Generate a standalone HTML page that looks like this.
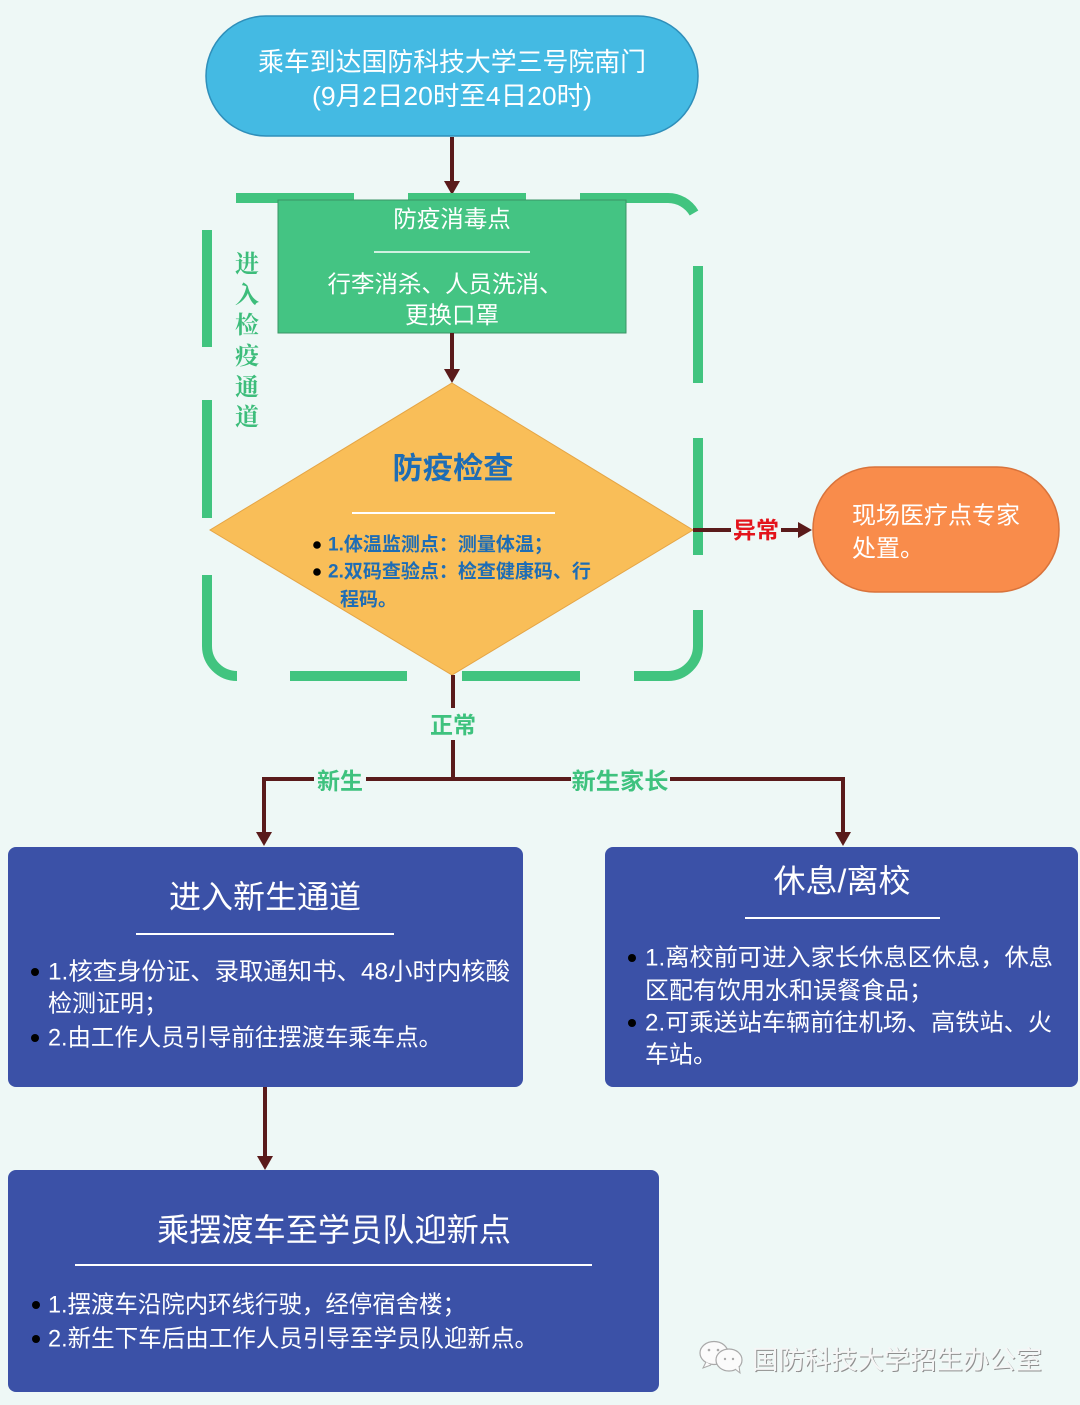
<!DOCTYPE html>
<html><head><meta charset="utf-8">
<style>
html,body{margin:0;padding:0;background:#eef8f6;width:1080px;height:1405px;overflow:hidden;}
svg{display:block}
text{font-family:"Liberation Sans","Noto Sans CJK SC",sans-serif;}
.serif{font-family:"Liberation Serif","Noto Serif CJK SC",serif;}
</style></head><body>
<svg width="1080" height="1405" viewBox="0 0 1080 1405" xmlns="http://www.w3.org/2000/svg">
<rect width="1080" height="1405" fill="#eef8f6"/>

<!-- top pill -->
<rect x="206" y="16" width="492" height="120" rx="60" fill="#44bae3" stroke="#2f8fba" stroke-width="1.5"/>
<text x="452" y="62" text-anchor="middle" dominant-baseline="central" font-size="26" fill="#fff" textLength="388" lengthAdjust="spacingAndGlyphs">乘车到达国防科技大学三号院南门</text>
<text x="452" y="96" text-anchor="middle" dominant-baseline="central" font-size="26" fill="#fff" textLength="280" lengthAdjust="spacingAndGlyphs">(9月2日20时至4日20时)</text>

<!-- arrow 1 -->
<line x1="452" y1="137" x2="452" y2="184" stroke="#5a1b1b" stroke-width="4"/>
<polygon points="444,181 460,181 452,195" fill="#5a1b1b"/>

<!-- dashed rounded border -->
<g fill="none" stroke="#41c47f" stroke-width="10" stroke-linecap="butt">
  <path d="M236,198 H354"/>
  <path d="M408,198 H526"/>
  <path d="M580,198 H668 A30,30 0 0 1 694,213"/>
  <path d="M698,266 V383"/>
  <path d="M698,438 V555"/>
  <path d="M698,610 V646 A30,30 0 0 1 668,676 H634"/>
  <path d="M580,676 H462"/>
  <path d="M407,676 H290"/>
  <path d="M237,676 A30,30 0 0 1 207,646 V575"/>
  <path d="M207,518 V400"/>
  <path d="M207,347 V230"/>
</g>

<!-- green rect -->
<rect x="278" y="200" width="348" height="133" fill="#44c483" stroke="#3a9566" stroke-width="1"/>
<text x="452" y="219" text-anchor="middle" dominant-baseline="central" font-size="23.5" fill="#fff">防疫消毒点</text>
<line x1="374" y1="252" x2="530" y2="252" stroke="#fff" stroke-width="1.5"/>
<text x="445" y="284" text-anchor="middle" dominant-baseline="central" font-size="23.5" fill="#fff">行李消杀、人员洗消、</text>
<text x="452" y="315" text-anchor="middle" dominant-baseline="central" font-size="23.5" fill="#fff">更换口罩</text>

<!-- vertical label -->
<g class="serif" font-size="24" font-weight="bold" fill="#3dbd7b" text-anchor="middle" dominant-baseline="central">
  <text x="247" y="265" class="serif">进</text>
  <text x="247" y="296" class="serif">入</text>
  <text x="247" y="326" class="serif">检</text>
  <text x="247" y="357" class="serif">疫</text>
  <text x="247" y="388" class="serif">通</text>
  <text x="247" y="418" class="serif">道</text>
</g>

<!-- arrow 2 -->
<line x1="452" y1="333" x2="452" y2="372" stroke="#5a1b1b" stroke-width="4"/>
<polygon points="444,369 460,369 452,383" fill="#5a1b1b"/>

<!-- diamond -->
<polygon points="452,383 693,530 452,675 210,530" fill="#f9be58" stroke="#e5a545" stroke-width="1"/>
<text x="453" y="469" text-anchor="middle" dominant-baseline="central" font-size="30" font-weight="bold" fill="#1e6db5" textLength="121" lengthAdjust="spacingAndGlyphs">防疫检查</text>
<line x1="352" y1="513" x2="555" y2="513" stroke="#fff" stroke-width="2"/>
<circle cx="317" cy="545" r="3.8" fill="#000"/>
<circle cx="317" cy="572" r="3.8" fill="#000"/>
<text x="328" y="545" dominant-baseline="central" font-size="19" font-weight="bold" fill="#1e6db5">1.体温监测点：测量体温；</text>
<text x="328" y="572" dominant-baseline="central" font-size="19" font-weight="bold" fill="#1e6db5">2.双码查验点：检查健康码、行</text>
<text x="340" y="600" dominant-baseline="central" font-size="19" font-weight="bold" fill="#1e6db5">程码。</text>

<!-- abnormal arrow -->
<line x1="693" y1="530" x2="731" y2="530" stroke="#5a1b1b" stroke-width="4"/>
<text x="756" y="530" text-anchor="middle" dominant-baseline="central" font-size="23" font-weight="bold" fill="#e3131b">异常</text>
<line x1="781" y1="530" x2="800" y2="530" stroke="#5a1b1b" stroke-width="4"/>
<polygon points="798,522 798,538 812,530" fill="#5a1b1b"/>

<!-- orange pill -->
<rect x="813" y="467" width="246" height="125" rx="62" fill="#f98c4b" stroke="#d9733b" stroke-width="1.5"/>
<text x="852" y="516" dominant-baseline="central" font-size="24" fill="#fff">现场医疗点专家</text>
<text x="852" y="549" dominant-baseline="central" font-size="24" fill="#fff">处置。</text>

<!-- normal connectors -->
<line x1="453" y1="675" x2="453" y2="708" stroke="#5a1b1b" stroke-width="4"/>
<text x="453" y="725" text-anchor="middle" dominant-baseline="central" font-size="23" font-weight="bold" fill="#3ec27e">正常</text>
<line x1="453" y1="740" x2="453" y2="779" stroke="#5a1b1b" stroke-width="4"/>
<path d="M264,835 V779 H843 V835" fill="none" stroke="#5a1b1b" stroke-width="4"/>
<polygon points="256,832 272,832 264,846" fill="#5a1b1b"/>
<polygon points="835,832 851,832 843,846" fill="#5a1b1b"/>
<rect x="314" y="768" width="52" height="26" fill="#eef8f6"/>
<rect x="571" y="768" width="99" height="26" fill="#eef8f6"/>
<text x="340" y="781" text-anchor="middle" dominant-baseline="central" font-size="23" font-weight="bold" fill="#3ec27e">新生</text>
<text x="620" y="781" text-anchor="middle" dominant-baseline="central" font-size="23" font-weight="bold" fill="#3ec27e" textLength="97" lengthAdjust="spacingAndGlyphs">新生家长</text>

<!-- left blue box -->
<rect x="8" y="847" width="515" height="240" rx="8" fill="#3b51a7"/>
<text x="265" y="897" text-anchor="middle" dominant-baseline="central" font-size="32" fill="#fff">进入新生通道</text>
<line x1="136" y1="934" x2="394" y2="934" stroke="#fff" stroke-width="2"/>
<circle cx="35" cy="972" r="4" fill="#000"/>
<circle cx="35" cy="1038" r="4" fill="#000"/>
<text x="48" y="972" dominant-baseline="central" font-size="24" fill="#fff" textLength="462" lengthAdjust="spacingAndGlyphs">1.核查身份证、录取通知书、48小时内核酸</text>
<text x="48" y="1004" dominant-baseline="central" font-size="24" fill="#fff">检测证明；</text>
<text x="48" y="1038" dominant-baseline="central" font-size="24" fill="#fff" textLength="394" lengthAdjust="spacingAndGlyphs">2.由工作人员引导前往摆渡车乘车点。</text>

<!-- right blue box -->
<rect x="605" y="847" width="473" height="240" rx="8" fill="#3b51a7"/>
<text x="842" y="881" text-anchor="middle" dominant-baseline="central" font-size="32" fill="#fff">休息/离校</text>
<line x1="745" y1="918" x2="940" y2="918" stroke="#fff" stroke-width="2"/>
<circle cx="632" cy="958" r="4" fill="#000"/>
<circle cx="632" cy="1023" r="4" fill="#000"/>
<text x="645" y="958" dominant-baseline="central" font-size="24" fill="#fff" textLength="408" lengthAdjust="spacingAndGlyphs">1.离校前可进入家长休息区休息，休息</text>
<text x="645" y="991" dominant-baseline="central" font-size="24" fill="#fff">区配有饮用水和误餐食品；</text>
<text x="645" y="1023" dominant-baseline="central" font-size="24" fill="#fff" textLength="407" lengthAdjust="spacingAndGlyphs">2.可乘送站车辆前往机场、高铁站、火</text>
<text x="645" y="1055" dominant-baseline="central" font-size="24" fill="#fff">车站。</text>

<!-- arrow left box -> bottom box -->
<line x1="265" y1="1087" x2="265" y2="1158" stroke="#5a1b1b" stroke-width="4"/>
<polygon points="257,1156 273,1156 265,1170" fill="#5a1b1b"/>

<!-- bottom blue box -->
<rect x="8" y="1170" width="651" height="222" rx="8" fill="#3b51a7"/>
<text x="334" y="1230" text-anchor="middle" dominant-baseline="central" font-size="32" fill="#fff" textLength="354" lengthAdjust="spacingAndGlyphs">乘摆渡车至学员队迎新点</text>
<line x1="75" y1="1265" x2="592" y2="1265" stroke="#fff" stroke-width="2"/>
<circle cx="36" cy="1305" r="4" fill="#000"/>
<circle cx="36" cy="1339" r="4" fill="#000"/>
<text x="48" y="1305" dominant-baseline="central" font-size="24" fill="#fff" textLength="418" lengthAdjust="spacingAndGlyphs">1.摆渡车沿院内环线行驶，经停宿舍楼；</text>
<text x="48" y="1339" dominant-baseline="central" font-size="24" fill="#fff" textLength="490" lengthAdjust="spacingAndGlyphs">2.新生下车后由工作人员引导至学员队迎新点。</text>

<!-- watermark -->
<g>
  <ellipse cx="714" cy="1353" rx="14" ry="11.5" fill="#fbfbfb" stroke="#a9a9a9" stroke-width="1.2"/>
  <ellipse cx="729" cy="1360" rx="13" ry="11" fill="#fbfbfb" stroke="#a9a9a9" stroke-width="1.2"/>
  <path d="M706,1362 l-3,6 l8,-3" fill="#fbfbfb" stroke="#a9a9a9" stroke-width="1"/>
  <path d="M735,1369 l5,4 l-1,-7" fill="#fbfbfb" stroke="#a9a9a9" stroke-width="1"/>
  <circle cx="709" cy="1350" r="1.3" fill="#aaa"/>
  <circle cx="718" cy="1350" r="1.3" fill="#aaa"/>
  <circle cx="725" cy="1359" r="1.2" fill="#aaa"/>
  <circle cx="733" cy="1359" r="1.2" fill="#aaa"/>
</g>
<text x="752" y="1360" dominant-baseline="central" font-size="26" fill="#8f8f8f" textLength="290" lengthAdjust="spacingAndGlyphs" transform="translate(1,1)">国防科技大学招生办公室</text>
<text x="752" y="1360" dominant-baseline="central" font-size="26" fill="#f6f6f6" textLength="290" lengthAdjust="spacingAndGlyphs">国防科技大学招生办公室</text>
</svg>
</body></html>
